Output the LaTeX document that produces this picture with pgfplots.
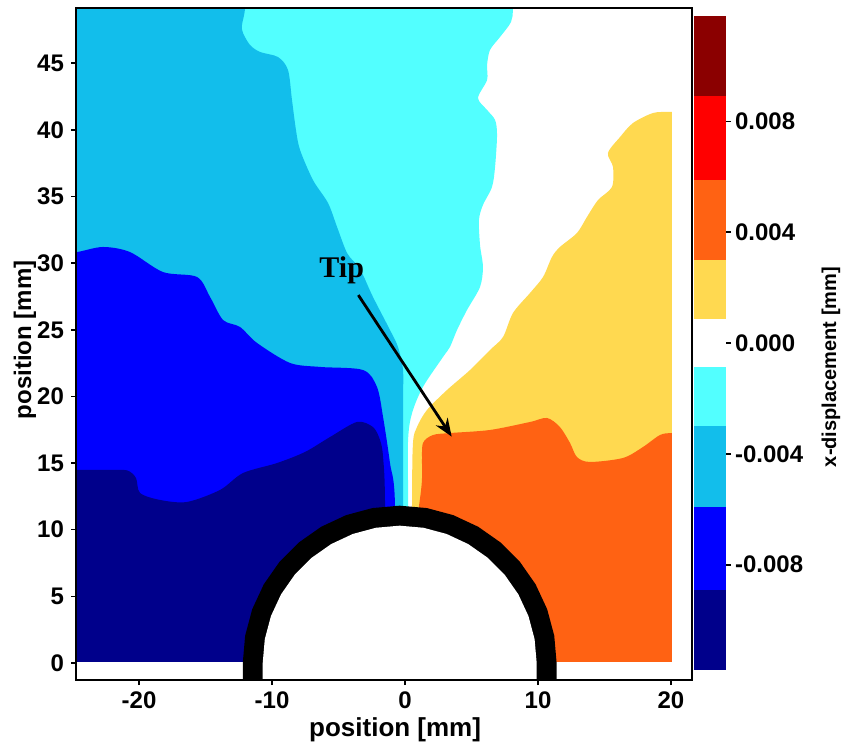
\documentclass[border=0pt]{standalone}
\usepackage{fontspec}
\setmainfont{Liberation Sans}
\newfontfamily\tipfont{Liberation Serif}
\usepackage{pgfplots}
\pgfplotsset{compat=1.18}
\usetikzlibrary{arrows.meta}
\definecolor{cnavy}{RGB}{0,0,139}
\definecolor{cblue}{RGB}{0,0,255}
\definecolor{clblue}{RGB}{18,190,235}
\definecolor{ccyan}{RGB}{82,255,255}
\definecolor{cyel}{RGB}{255,217,80}
\definecolor{corange}{RGB}{255,98,19}
\definecolor{cred}{RGB}{255,0,0}
\definecolor{cdred}{RGB}{139,0,0}
\begin{document}
\begin{tikzpicture}
\begin{axis}[at={(0pt,0pt)}, anchor=south west, scale only axis, width=308pt, height=336pt,
 xmin=-24.74, xmax=21.58, ymin=-1.28, ymax=49.14,
 axis on top, axis line style={line width=0.9pt},
 xtick={-20,-10,0,10,20}, ytick={0,5,...,45},
 tick align=outside, xtick pos=left, ytick pos=left,
 major tick length=2.5pt, every tick/.style={black, line width=0.8pt},
 /pgf/number format/assume math mode=true,
 ticklabel style={font=\bfseries\fontsize{12}{14}\selectfont},
 xlabel={position [mm]}, ylabel={position [mm]},
 x label style={at={(axis description cs:0.518,-0.0744)}, anchor=center, font=\bfseries\fontsize{13}{15}\selectfont},
 y label style={at={(axis description cs:-0.0828,0.506)}, anchor=center, font=\bfseries\fontsize{12}{14}\selectfont},
]
% cyan region
\addplot[fill=ccyan, draw=none, smooth] coordinates {
(-27,-3) (-27,52) (8.2,52) (8.12,49.14) (7.97,48.09) (7.14,46.96) (6.39,45.99) (6.17,44.86) (6.17,43.74) (5.49,42.39) (6.17,41.49) (6.77,40.74) (6.92,39.61) (6.77,37.21) (6.54,35.71) (5.86,34.36) (5.56,33.23) (5.64,31.36) (5.86,29.71) (5.64,28.21) (4.66,26.48) (3.91,24.98) (3.38,23.71) (2.86,22.96) (1.35,20.71) (0.53,18.75) (0.23,16.73) (0.23,12.0) (0.23,-3)} -- cycle;
% light blue region
\addplot[fill=clblue, draw=none, smooth] coordinates {
(-27,-3) (-27,52) (-12.0,52) (-12.03,49.14) (-12.26,47.86) (-12.18,47.26) (-11.65,46.36) (-10.9,45.84) (-9.55,45.46) (-8.8,44.49) (-8.5,42.24) (-8.2,39.99) (-7.89,38.48) (-6.92,36.23) (-5.79,34.51) (-5.11,32.71) (-4.36,30.76) (-3.61,29.86) (-3.16,29.11) (-2.41,27.46) (-1.13,24.98) (-0.53,23.71) (-0.15,21.98) (-0.15,19.5) (-0.15,11.7) (-0.15,-3)} -- cycle;
% blue region
\addplot[fill=cblue, draw=none, smooth] coordinates {
(-27,-3) (-27,30.8) (-25.8,30.8) (-24.66,30.83) (-22.71,31.21) (-20.68,30.83) (-18.2,29.33) (-15.64,28.96) (-14.66,27.46) (-13.68,25.73) (-12.41,25.21) (-11.13,24.01) (-8.65,22.51) (-6.39,22.21) (-3.16,21.98) (-2.11,20.71) (-1.65,18.45) (-1.13,15.0) (-0.75,11.7) (-0.75,-3)} -- cycle;
% navy region
\addplot[fill=cnavy, draw=none, smooth] coordinates {
(-27,-3) (-27,14.48) (-25.8,14.48) (-24.0,14.48) (-22.3,14.48) (-20.9,14.45) (-20.23,13.88) (-19.92,12.75) (-18.42,12.23) (-16.39,12.08) (-13.91,12.98) (-12.18,14.25) (-9.62,15.0) (-7.52,15.83) (-5.64,16.95) (-3.61,18.08) (-2.41,17.7) (-1.88,16.73) (-1.65,15.45) (-1.5,11.7) (-1.5,-3)} -- cycle;
% yellow region
\addplot[fill=cyel, draw=none, smooth] coordinates {
(22,-3) (0.53,-3) (0.53,12.0) (0.6,16.5) (0.9,17.7) (1.65,18.98) (3.16,20.48) (4.89,21.98) (6.39,23.48) (7.37,24.46) (8.12,26.26) (9.4,27.76) (10.38,28.96) (11.05,30.46) (11.65,31.21) (12.93,32.26) (13.68,33.46) (14.51,34.73) (15.56,35.71) (15.64,37.21) (15.26,38.26) (16.17,39.46) (17.14,40.51) (18.65,41.26) (19.92,41.34) (22,41.34)} -- cycle;
% orange region
\addplot[fill=corange, draw=none, smooth] coordinates {
(22,-3) (1.28,-3) (1.28,13.95) (1.28,15.0) (1.35,16.5) (2.1,17.1) (3.38,17.25) (6.39,17.48) (9.4,18.08) (10.68,18.38) (11.65,17.7) (12.41,16.5) (12.93,15.45) (13.9,15.08) (16.39,15.38) (17.89,16.2) (19.17,17.1) (20.08,17.25) (22,17.25)} -- cycle;
% white outside the measured field
\addplot[fill=white, draw=none] coordinates {(-30,-5) (30,-5) (30,0.05) (-30,0.05)} -- cycle;
\addplot[fill=white, draw=none] coordinates {(20.08,-5) (30,-5) (30,60) (20.08,60)} -- cycle;
% hole (black ring, white inside)
\addplot[fill=black, draw=none] coordinates {
(11.4,-3) (11.4,0) (11.221,2.049) (10.688,4.036) (9.819,5.9) (8.639,7.585) (7.185,9.039) (5.5,10.219) (3.636,11.088) (1.649,11.621) (-0.4,11.8) (-2.449,11.621) (-4.436,11.088) (-6.3,10.219) (-7.985,9.039) (-9.439,7.585) (-10.619,5.9) (-11.488,4.036) (-12.021,2.049) (-12.2,0) (-12.2,-3)} -- cycle;
\addplot[fill=white, draw=none] coordinates {
(9.9,-3) (9.9,0) (9.743,1.788) (9.279,3.523) (8.52,5.15) (7.49,6.621) (6.221,7.89) (4.75,8.92) (3.123,9.679) (1.388,10.143) (-0.4,10.3) (-2.188,10.143) (-3.923,9.679) (-5.55,8.92) (-7.021,7.89) (-8.29,6.621) (-9.32,5.15) (-10.079,3.523) (-10.543,1.788) (-10.7,0) (-10.7,-3)} -- cycle;
\draw[line width=1.4pt, -{Stealth[length=9pt,width=7pt]}] (axis cs:-3.51,27.6) -- (axis cs:3.51,16.98);
\node[font=\tipfont\bfseries\fontsize{15}{17}\selectfont, anchor=base] at (axis cs:-4.76,28.9) {Tip};
\end{axis}
\begin{axis}[at={(309pt,5pt)}, anchor=south west, scale only axis, width=16pt, height=327pt,
 xmin=0, xmax=1, ymin=-0.0118, ymax=0.0118,
 axis line style={draw=none}, xtick=\empty,
 ytick={-0.008,-0.004,0,0.004,0.008}, yticklabels={-0.008,-0.004,0.000,0.004,0.008},
 ytick pos=right, yticklabel pos=right, tick align=outside, major tick length=2.5pt,
 every tick/.style={black, line width=0.8pt}, scaled y ticks=false,
 yticklabel style={font=\bfseries\fontsize{12}{14}\selectfont, xshift=-1.5pt},
]
\addplot[fill=cnavy, draw=none] coordinates {(0,-0.0118) (1,-0.0118) (1,-0.0089) (0,-0.0089)} -- cycle;
\addplot[fill=cblue, draw=none] coordinates {(0,-0.0089) (1,-0.0089) (1,-0.0059) (0,-0.0059)} -- cycle;
\addplot[fill=clblue, draw=none] coordinates {(0,-0.0059) (1,-0.0059) (1,-0.0030) (0,-0.0030)} -- cycle;
\addplot[fill=ccyan, draw=none] coordinates {(0,-0.0030) (1,-0.0030) (1,-0.00087) (0,-0.00087)} -- cycle;
\addplot[fill=cyel, draw=none] coordinates {(0,0.00087) (1,0.00087) (1,0.0030) (0,0.0030)} -- cycle;
\addplot[fill=corange, draw=none] coordinates {(0,0.0030) (1,0.0030) (1,0.0059) (0,0.0059)} -- cycle;
\addplot[fill=cred, draw=none] coordinates {(0,0.0059) (1,0.0059) (1,0.0089) (0,0.0089)} -- cycle;
\addplot[fill=cdred, draw=none] coordinates {(0,0.0089) (1,0.0089) (1,0.0118) (0,0.0118)} -- cycle;
\end{axis}
\node[rotate=90, font=\bfseries\fontsize{10}{12}\selectfont] at (377.5pt,156.5pt) {x-displacement [mm]};
\pgfresetboundingbox
\path (-38pt,-33pt) rectangle (384pt,340pt);
\end{tikzpicture}
\end{document}
